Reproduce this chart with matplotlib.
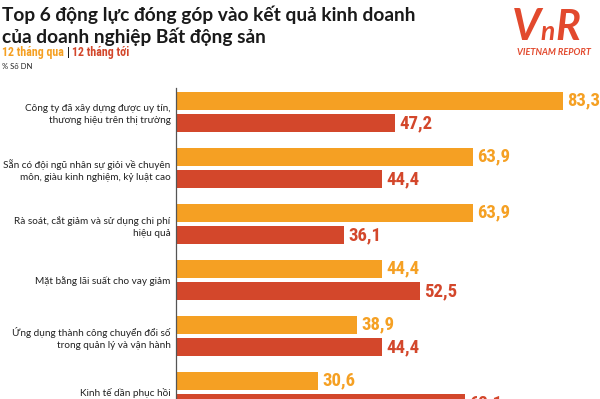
import matplotlib.pyplot as plt
import numpy as np

# --- data ---
categories = [
    "Công ty đã xây dựng được uy tín,\nthương hiệu trên thị trường",
    "Sẵn có đội ngũ nhân sự giỏi về chuyên\nmôn, giàu kinh nghiệm, kỷ luật cao",
    "Rà soát, cắt giảm và sử dụng chi phí\nhiệu quả",
    "Mặt bằng lãi suất cho vay giảm",
    "Ứng dụng thành công chuyển đổi số\ntrong quản lý và vận hành",
    "Kinh tế dần phục hồi",
]
past_12m = [83.3, 63.9, 63.9, 44.4, 38.9, 30.6]
next_12m = [47.2, 44.4, 36.1, 52.5, 44.4, 62.1]

ORANGE = "#F5A023"
RED = "#D3472B"
NUM_FONT = ["Liberation Sans Narrow", "Roboto Condensed", "DejaVu Sans"]
TXT_FONT = ["Lato", "DejaVu Sans"]

W, H = 600, 399
fig = plt.figure(figsize=(W / 100, H / 100), dpi=100)
fig.patch.set_facecolor("white")

# axes placed in pixel terms; the bottom runs past the figure edge like the source
ax_left, ax_top = 176, 88
ax_right = 594
ylim_top, ylim_bot = -0.43, 5.6
grp = 56.0  # px per group
ax_h = (ylim_bot - ylim_top) * grp
ax = fig.add_axes([ax_left / W, (H - ax_top - ax_h) / H, (ax_right - ax_left) / W, ax_h / H])

y = np.arange(len(categories))
bh = 0.32
off = 0.2
ax.barh(y - off, past_12m, height=bh, color=ORANGE)
ax.barh(y + off, next_12m, height=bh, color=RED)

ax.set_xlim(0, (ax_right - ax_left) / 4.646)
ax.set_ylim(ylim_bot, ylim_top)

for yi, v in zip(y, past_12m):
    ax.annotate(f"{v:.1f}".replace(".", ","), (v, yi - off), xytext=(3, 0), textcoords="offset points",
                va="center", ha="left", color=ORANGE, fontsize=13.5, fontweight="bold", family=NUM_FONT,
                annotation_clip=False)
for yi, v in zip(y, next_12m):
    ax.annotate(f"{v:.1f}".replace(".", ","), (v, yi + off), xytext=(3, 0), textcoords="offset points",
                va="center", ha="left", color=RED, fontsize=13.5, fontweight="bold", family=NUM_FONT,
                annotation_clip=False)

ax.set_yticks(y)
ax.set_yticklabels(categories, fontsize=7.2, family=TXT_FONT, color="#222222", linespacing=1.45)
ax.tick_params(axis="y", length=0, pad=4)
ax.set_xticks([])
for s in ["top", "right", "bottom"]:
    ax.spines[s].set_visible(False)
ax.spines["left"].set_color("#555555")
ax.spines["left"].set_linewidth(0.9)

# --- titles ---
fig.text(2 / W, 1 - 21 / H, "Top 6 động lực đóng góp vào kết quả kinh doanh", fontsize=13.8,
         fontweight="bold", family=TXT_FONT, color="#1a1a1a", va="baseline")
fig.text(2 / W, 1 - 43 / H, "của doanh nghiệp Bất động sản", fontsize=13.8,
         fontweight="bold", family=TXT_FONT, color="#1a1a1a", va="baseline")


def put_after(prev, txt, **kw):
    fig.canvas.draw()
    bb = prev.get_window_extent()
    return fig.text(bb.x1 / W, prev.get_position()[1], txt, va="baseline", **kw)


sub_kw = dict(fontsize=8.6, fontweight="bold", family=NUM_FONT)
t1 = fig.text(2 / W, 1 - 56 / H, "12 tháng qua ", color=ORANGE, va="baseline", **sub_kw)
t2 = put_after(t1, "| ", color="#1a1a1a", **sub_kw)
put_after(t2, "12 tháng tới", color=RED, **sub_kw)
fig.text(2 / W, 1 - 69 / H, "% Số DN", fontsize=5.5, family=TXT_FONT, color="#222222", va="baseline")

# --- logo ---
LOGO = "#E2492D"
logo_kw = dict(fontweight="bold", family=TXT_FONT, color=LOGO, style="italic")
lv = fig.text(512 / W, 1 - 40 / H, "V", fontsize=32, va="baseline", **logo_kw)
ln = put_after(lv, "n", fontsize=19, **logo_kw)
put_after(ln, "R", fontsize=30, **logo_kw)
fig.text(554 / W, 1 - 55 / H, "VIETNAM REPORT", fontsize=6.6, ha="center", va="baseline",
         **logo_kw)

fig.savefig("out.png", dpi=100)
